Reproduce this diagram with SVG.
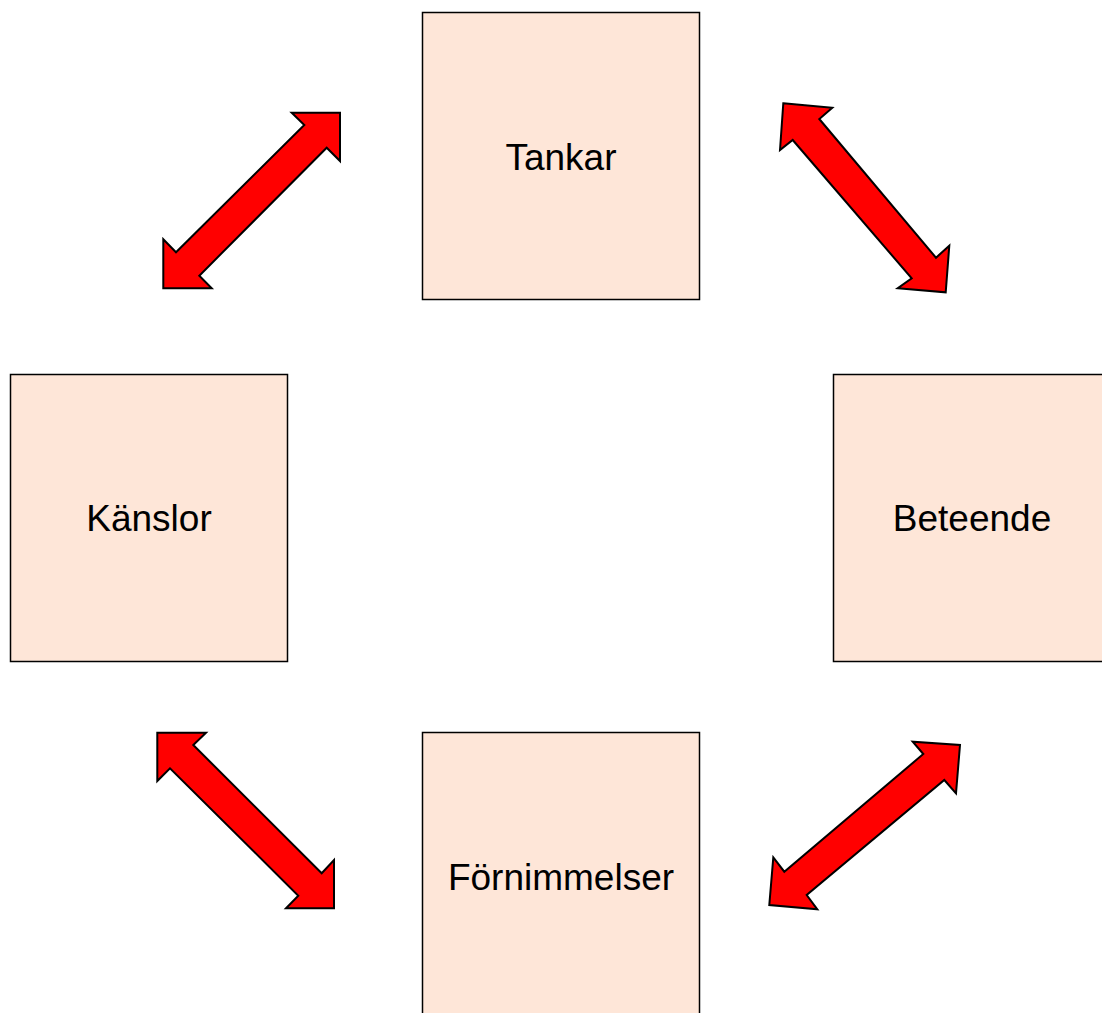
<svg xmlns="http://www.w3.org/2000/svg" width="1102" height="1013" viewBox="0 0 1102 1013">
  <style>
    .box { fill: #FEE6D8; stroke: #000; stroke-width: 1.5; }
    .label { font-family: "Liberation Sans", Arial, sans-serif; font-size: 37px; fill: #000; text-anchor: middle; }
    .arrow { fill: #FF0000; stroke: #000; stroke-width: 2; stroke-linejoin: miter; }
  </style>
  <rect width="1102" height="1013" fill="#fff"/>

  <g id="tankar">
    <rect class="box" x="422.5" y="12.5" width="277" height="287"/>
    <text class="label" x="561" y="170">Tankar</text>
  </g>
  <g id="kanslor">
    <rect class="box" x="10.5" y="374.5" width="277" height="287"/>
    <text class="label" x="149" y="531">Känslor</text>
  </g>
  <g id="beteende">
    <rect class="box" x="833.5" y="374.5" width="277" height="287"/>
    <text class="label" x="972" y="531">Beteende</text>
  </g>
  <g id="fornimmelser">
    <rect class="box" x="422.5" y="732.5" width="277" height="287"/>
    <text class="label" x="561" y="890">Förnimmelser</text>
  </g>

  <g id="connectors">
    <!-- Känslor <-> Tankar -->
    <polygon class="arrow" points="340,112.7 340,161 326.7,147.7 199.3,275.7 211.7,288.3 163.3,288.3 163.3,239.3 176,252.3 304.3,125 291.7,112.7"/>
    <!-- Tankar <-> Beteende -->
    <polygon class="arrow" points="783.3,103.3 832.3,107.7 819.3,119 936,257.7 949.3,245.7 945.7,292.3 897.7,288.3 911.7,278.3 792.7,140 780,150"/>
    <!-- Känslor <-> Förnimmelser -->
    <polygon class="arrow" points="157.3,732.7 206,732.7 193.3,745 321.7,873.3 334,860 334,908.3 286,908.3 298.3,895.7 170,768.3 157.3,781"/>
    <!-- Förnimmelser <-> Beteende -->
    <polygon class="arrow" points="960,745 956,793.3 944.3,780 806.7,895 817.3,909.3 769.3,905 773.3,857.3 784.3,871.7 923.3,754 912.7,741.7"/>
  </g>
</svg>
